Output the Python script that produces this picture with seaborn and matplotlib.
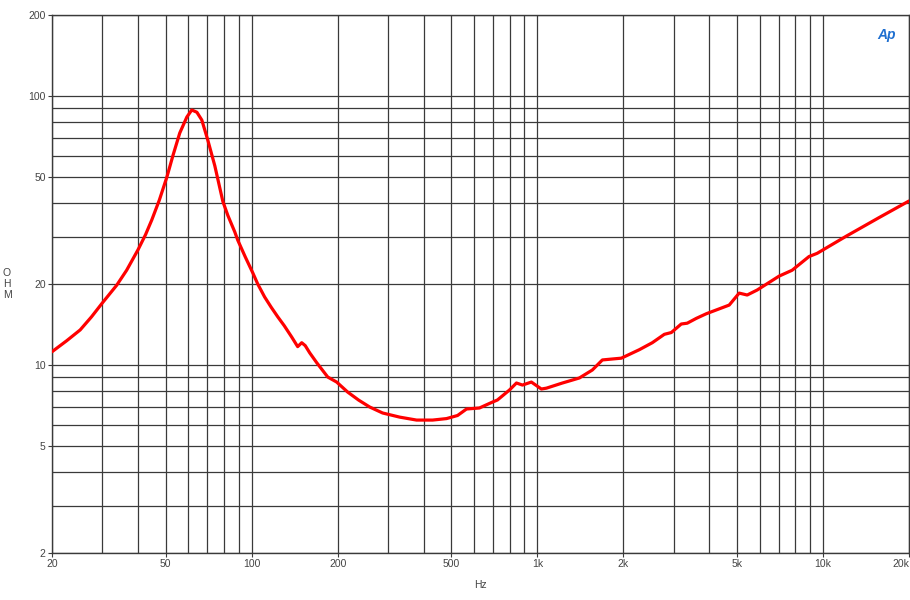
#!/usr/bin/env python3

import numpy as np
import pandas as pd
import matplotlib
matplotlib.use("Agg")
import matplotlib.pyplot as plt
import seaborn as sns

# Impedance curve (frequency in Hz, impedance in ohm)
FREQ_HZ = [20, 22.5, 25.1, 27.5, 30, 33.7, 36.5, 40, 42.5, 44.7, 47.5, 50.5, 53, 56.0,
           59.3, 61.7, 64.3, 66.9, 70.2, 74.3, 79.3, 82.5, 87.3, 89.4, 95, 100.9, 105,
           111, 117, 123.4, 130, 138.1, 144.9, 149.7, 154, 159.6, 168.9, 184.6,
           198.4, 216.8, 237, 258.8, 287.3, 329.6, 377.8, 429.9, 481, 525.7, 565,
           627, 696.7, 725, 798.6, 845, 887, 953, 1033, 1076, 1224, 1327, 1404,
           1558, 1689, 1787, 1968, 2276, 2526, 2783, 2944, 3190, 3347, 3600, 3901,
           4696, 5087, 5428, 5884, 7022, 7796, 8934, 9536, 12050, 15706, 20000]
IMPEDANCE = [11.2, 12.3, 13.5, 15.1, 17.0, 19.8, 22.5, 26.8, 30.5, 34.6, 41.0, 50.0, 60.0,
             72.8, 83.5, 88.7, 87.0, 81.4, 68.6, 55.0, 40.5, 36.0, 31.2, 29.1, 25.2,
             22.0, 20.0, 17.9, 16.4, 15.1, 14.0, 12.7, 11.7, 12.1, 11.8, 11.1, 10.2,
             9.02, 8.64, 7.93, 7.4, 6.98, 6.63, 6.40, 6.24, 6.24, 6.32, 6.49, 6.86,
             6.92, 7.28, 7.41, 8.07, 8.57, 8.42, 8.64, 8.14, 8.20, 8.57, 8.79, 8.95,
             9.58, 10.44, 10.5, 10.6, 11.4, 12.1, 13.0, 13.2, 14.2, 14.3, 14.9, 15.5,
             16.7, 18.5, 18.2, 19.0, 21.4, 22.5, 25.3, 26.0, 30.1, 35.3, 40.7]

X_TICKS = [20, 50, 100, 200, 500, 1000, 2000, 5000, 10000, 20000]
X_LABELS = ["20", "50", "100", "200", "500", "1k", "2k", "5k", "10k", "20k"]
Y_TICKS = [2, 5, 10, 20, 50, 100, 200]
Y_LABELS = ["2", "5", "10", "20", "50", "100", "200"]

X_GRID = [20, 30, 40, 50, 60, 70, 80, 90, 100, 200, 300, 400, 500, 600, 700, 800, 900,
          1000, 2000, 3000, 4000, 5000, 6000, 7000, 8000, 9000, 10000, 20000]
Y_GRID = [2, 3, 4, 5, 6, 7, 8, 9, 10, 20, 30, 40, 50, 60, 70, 80, 90, 100, 200]

GRID_COLOR = "#3a3a3a"
TEXT_COLOR = "#444444"


def main():
    df = pd.DataFrame({"Hz": FREQ_HZ, "OHM": IMPEDANCE})

    sns.set_style("white")
    plt.rcParams["font.family"] = ["Liberation Sans", "DejaVu Sans"]

    fig = plt.figure(figsize=(9.1, 6.0), dpi=100)
    ax = fig.add_axes([52 / 910, 47 / 600, 857 / 910, 538 / 600])

    ax.set_xscale("log")
    ax.set_yscale("log")
    ax.set_xlim(20, 20000)
    ax.set_ylim(2, 200)

    # grid drawn as plain lines so only the reference's lines appear
    for gx in X_GRID:
        ax.axvline(gx, color=GRID_COLOR, lw=0.9, zorder=1)
    for gy in Y_GRID:
        ax.axhline(gy, color=GRID_COLOR, lw=0.9, zorder=1)

    sns.lineplot(data=df, x="Hz", y="OHM", ax=ax, color="#ff0000", lw=2.3,
                 sort=False, estimator=None, zorder=3)

    ax.xaxis.set_minor_locator(matplotlib.ticker.NullLocator())
    ax.yaxis.set_minor_locator(matplotlib.ticker.NullLocator())
    ax.set_xticks(X_TICKS)
    ax.set_xticklabels(X_LABELS)
    ax.set_yticks(Y_TICKS)
    ax.set_yticklabels(Y_LABELS)
    ax.tick_params(axis="both", which="major", length=3, width=0.8, color=GRID_COLOR,
                   labelsize=7.5, labelcolor=TEXT_COLOR, pad=1.5)
    ax.tick_params(axis="x", bottom=True)
    ax.tick_params(axis="y", left=True)
    # keep the last frequency label inside the picture
    ax.get_xticklabels()[-1].set_horizontalalignment("right")

    for spine in ax.spines.values():
        spine.set_color(GRID_COLOR)
        spine.set_linewidth(1.0)

    ax.set_xlabel("Hz", fontsize=7.5, color=TEXT_COLOR, labelpad=8)
    ax.set_ylabel("")
    fig.text(7 / 910, 1 - 284 / 600, "O\nH\nM", ha="center", va="center",
             fontsize=7.5, color=TEXT_COLOR, linespacing=1.1)

    # Ap logo in the top right corner
    ax.text(0.985, 0.975, "Ap", transform=ax.transAxes, ha="right", va="top",
            fontsize=10, color="#1f6fd0", style="italic", fontweight="bold", zorder=4)

    fig.savefig("out.png", dpi=100, facecolor="white")
    plt.close(fig)


if __name__ == "__main__":
    main()
